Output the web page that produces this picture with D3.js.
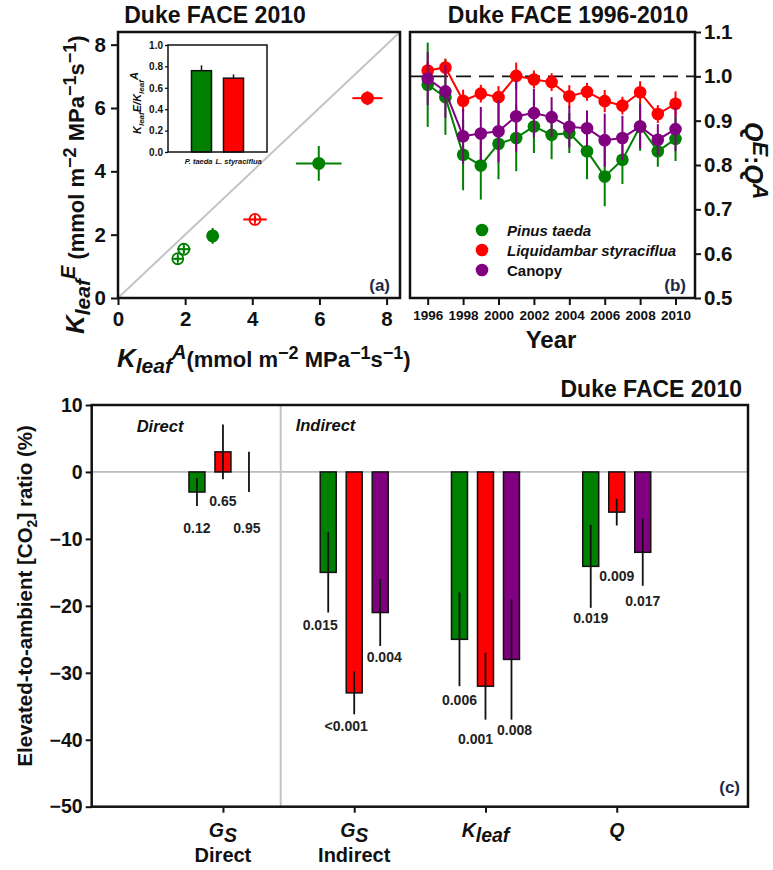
<!DOCTYPE html>
<html><head><meta charset="utf-8">
<script src="https://cdn.jsdelivr.net/npm/d3@7"></script>
<style>
body{margin:0;background:#fff}
svg{display:block}
text{font-family:"Liberation Sans",Arial,sans-serif;font-weight:bold;fill:#111}
</style>
</head><body>
<svg id="chart" width="773" height="870"></svg>
<script>
// ---------------- DATA ----------------
// Panel (a): Kleaf^A vs Kleaf^E
const aSpecies = ["Pinus taeda","Pinus taeda","Pinus taeda","Pinus taeda","Liquidambar styraciflua","Liquidambar styraciflua"];
const aForm = ["open","open","filled","filled","open","filled"];
const aKleafA = [1.78, 1.96, 2.82, 5.98, 4.08, 7.43];
const aKleafAErr = [0.12, 0.2, 0.1, 0.68, 0.35, 0.45];
const aKleafE = [1.24, 1.54, 1.96, 4.25, 2.48, 6.31];
const aKleafEErr = [0.1, 0.12, 0.25, 0.55, 0.1, 0.22];
const aTicks = [0, 2, 4, 6, 8];

// Inset: Kleaf E / Kleaf A
const insetSpecies = ["P. taeda", "L. styraciflua"];
const insetRatio = [0.76, 0.69];
const insetErr = [0.05, 0.035];
const insetTicks = [0, 0.2, 0.4, 0.6, 0.8, 1.0];

// Panel (b): Q^E:Q^A 1996-2010
const bYears = [1996,1997,1998,1999,2000,2001,2002,2003,2004,2005,2006,2007,2008,2009,2010];
const bSeriesNames = ["Pinus taeda", "Liquidambar styraciflua", "Canopy"];
const bPinus = [0.981,0.953,0.823,0.799,0.848,0.861,0.887,0.868,0.872,0.831,0.774,0.812,0.887,0.831,0.859];
const bPinusErr = [0.095,0.085,0.08,0.077,0.08,0.075,0.06,0.055,0.045,0.063,0.067,0.055,0.055,0.035,0.05];
const bLiquid = [1.013,1.020,0.945,0.961,0.953,1.001,0.993,0.987,0.955,0.965,0.944,0.934,0.964,0.915,0.938];
const bLiquidErr = [0.02,0.02,0.025,0.02,0.025,0.03,0.02,0.02,0.025,0.02,0.025,0.02,0.025,0.02,0.028];
const bCanopy = [0.995,0.966,0.865,0.871,0.876,0.910,0.917,0.908,0.886,0.883,0.856,0.861,0.887,0.857,0.881];
const bCanopyErr = [0.06,0.06,0.062,0.06,0.07,0.08,0.055,0.045,0.047,0.04,0.06,0.05,0.05,0.035,0.05];
const bXTicks = [1996,1998,2000,2002,2004,2006,2008,2010];
const bYTicks = [0.5,0.6,0.7,0.8,0.9,1.0,1.1];

// Panel (c): elevated-to-ambient ratios
const cCategories = ["Gs Direct", "Gs Indirect", "Kleaf", "Q"];
const cTickMain = ["G", "G", "K", "Q"];
const cTickSub = ["S", "S", "leaf", ""];
const cTickLine2 = ["Direct", "Indirect", "", ""];
const cGroups = ["Pinus taeda", "Liquidambar styraciflua", "Canopy"];
const cPinus = [-3, -15, -25, -14.1];
const cPinusErr = [2.1, 6, 7, 6.2];
const cLiquid = [3, -33, -32, -6];
const cLiquidErr = [4.1, 3.2, 5, 2];
const cCanopy = [0, -21, -28, -12];
const cCanopyErr = [3, 5, 9, 5];
const cPinusP = ["0.12", "0.015", "0.006", "0.019"];
const cLiquidP = ["0.65", "<0.001", "0.001", "0.009"];
const cCanopyP = ["0.95", "0.004", "0.008", "0.017"];
const cPinusPAt = [-8.3, -22.9, -34.1, -21.8];
const cLiquidPAt = [-4.3, -37.9, -39.9, -15.5];
const cCanopyPAt = [-8.3, -27.6, -38.6, -19.3];
const cYTicks = [-50, -40, -30, -20, -10, 0, 10];

// ---------------- STYLE ----------------
const GREEN = "#008000", RED = "#ff0000", PURPLE = "#800080";
const speciesColor = {"Pinus taeda": GREEN, "Liquidambar styraciflua": RED, "Canopy": PURPLE};
const PANEL_LABEL = "#1c2848";

const svg = d3.select("#chart");

function rich(sel, parts) {
  let cur = 0;
  parts.forEach(p => {
    const off = p.off || 0;
    sel.append("tspan")
      .attr("dy", off - cur)
      .attr("font-size", p.size)
      .attr("font-style", p.italic ? "italic" : "normal")
      .text(p.t);
    cur = off;
  });
}
function styleAxis(g, fs) {
  g.select(".domain").remove();
  g.selectAll(".tick line").attr("stroke", "#111").attr("stroke-width", 2);
  g.selectAll(".tick text").attr("font-size", fs).attr("font-family", '"Liberation Sans",Arial,sans-serif').attr("font-weight", "bold").attr("fill", "#111");
}

// ================= PANEL (a) =================
const ax = d3.scaleLinear().domain([0, 8.4]).range([118, 400]);
const ay = d3.scaleLinear().domain([0, 8.4]).range([298, 32]);
const ga = svg.append("g");

ga.append("line")
  .attr("x1", ax(0)).attr("y1", ay(0)).attr("x2", ax(8.4)).attr("y2", ay(8.4))
  .attr("stroke", "#c4c4c4").attr("stroke-width", 2);

ga.append("g").attr("transform", `translate(0,${ay(0)})`)
  .call(d3.axisBottom(ax).tickValues(aTicks).tickSize(7).tickPadding(6))
  .call(g => styleAxis(g, 20.5));
ga.append("g").attr("transform", `translate(${ax(0)},0)`)
  .call(d3.axisLeft(ay).tickValues(aTicks).tickSize(7).tickPadding(5))
  .call(g => styleAxis(g, 20.5));

aKleafA.forEach((xv, i) => {
  const c = speciesColor[aSpecies[i]];
  const cx = ax(xv), cy = ay(aKleafE[i]);
  ga.append("line").attr("x1", ax(xv - aKleafAErr[i])).attr("x2", ax(xv + aKleafAErr[i]))
    .attr("y1", cy).attr("y2", cy).attr("stroke", c).attr("stroke-width", 2);
  ga.append("line").attr("x1", cx).attr("x2", cx)
    .attr("y1", ay(aKleafE[i] - aKleafEErr[i])).attr("y2", ay(aKleafE[i] + aKleafEErr[i]))
    .attr("stroke", c).attr("stroke-width", 2);
  if (aForm[i] === "open") {
    const r = 5.5;
    ga.append("circle").attr("cx", cx).attr("cy", cy).attr("r", r)
      .attr("fill", "none").attr("stroke", c).attr("stroke-width", 1.8);
    ga.append("line").attr("x1", cx - r).attr("x2", cx + r).attr("y1", cy).attr("y2", cy).attr("stroke", c).attr("stroke-width", 1.5);
    ga.append("line").attr("x1", cx).attr("x2", cx).attr("y1", cy - r).attr("y2", cy + r).attr("stroke", c).attr("stroke-width", 1.5);
  } else {
    ga.append("circle").attr("cx", cx).attr("cy", cy).attr("r", 6.5).attr("fill", c);
  }
});

ga.append("rect").attr("x", ax(0)).attr("y", ay(8.4))
  .attr("width", ax(8.4) - ax(0)).attr("height", ay(0) - ay(8.4))
  .attr("fill", "none").attr("stroke", "#111").attr("stroke-width", 2.5);

ga.append("text").attr("x", 215).attr("y", 23).attr("text-anchor", "middle")
  .attr("font-size", 23).text("Duke FACE 2010");
ga.append("text").attr("x", 390).attr("y", 291).attr("text-anchor", "end")
  .attr("font-size", 17).style("fill", PANEL_LABEL).text("(a)");

// x label
const axl = ga.append("text").attr("x", 117).attr("y", 367);
rich(axl, [
  {t: "K", size: 26, italic: true},
  {t: "leaf", size: 21, italic: true, off: 6},
  {t: "A", size: 20, italic: true, off: -8},
  {t: "(mmol m", size: 22},
  {t: "−2", size: 18, off: -8},
  {t: " MPa", size: 22},
  {t: "−1", size: 18, off: -8},
  {t: "s", size: 22},
  {t: "−1", size: 18, off: -8},
  {t: ")", size: 22}
]);
// y label
const ayl = ga.append("text").attr("transform", "translate(84,334) rotate(-90)");
rich(ayl, [
  {t: "K", size: 26, italic: true},
  {t: "leaf", size: 21, italic: true, off: 6},
  {t: "E", size: 20, italic: true, off: -9},
  {t: " (mmol m", size: 22},
  {t: "−2", size: 18, off: -8},
  {t: " MPa", size: 22},
  {t: "−1", size: 18, off: -8},
  {t: "s", size: 22},
  {t: "−1", size: 18, off: -8},
  {t: ")", size: 22}
]);

// ---- inset ----
const ix = d3.scaleBand().domain(insetSpecies).range([168, 267]).paddingInner(0.375).paddingOuter(0.734);
const iy = d3.scaleLinear().domain([0, 1]).range([152, 45]);
const gi = svg.append("g");
gi.append("g").attr("transform", `translate(168,0)`)
  .call(d3.axisLeft(iy).tickValues(insetTicks).tickFormat(d3.format(".1f")).tickSize(3).tickPadding(2))
  .call(g => { styleAxis(g, 10); g.selectAll(".tick line").attr("stroke-width", 1.3); });
insetSpecies.forEach((s, i) => {
  const c = i === 0 ? GREEN : RED;
  const xm = ix(s) + ix.bandwidth() / 2;
  gi.append("line").attr("x1", xm).attr("x2", xm).attr("y1", iy(insetRatio[i])).attr("y2", iy(insetRatio[i] + insetErr[i]))
    .attr("stroke", "#111").attr("stroke-width", 1.5);
  gi.append("rect").attr("x", ix(s)).attr("y", iy(insetRatio[i]))
    .attr("width", ix.bandwidth()).attr("height", iy(0) - iy(insetRatio[i]))
    .attr("fill", c).attr("stroke", "#111").attr("stroke-width", 1.5);
});
gi.append("rect").attr("x", 168).attr("y", 45).attr("width", 99).attr("height", 107)
  .attr("fill", "none").attr("stroke", "#111").attr("stroke-width", 1.5);
gi.append("text").attr("x", ix(insetSpecies[0]) + ix.bandwidth() + 1).attr("y", 164)
  .attr("text-anchor", "end").attr("font-size", 7.5).attr("font-style", "italic").text(insetSpecies[0]);
gi.append("text").attr("x", ix(insetSpecies[1]) - 8).attr("y", 164)
  .attr("text-anchor", "start").attr("font-size", 7.5).attr("font-style", "italic").text(insetSpecies[1]);
const iyl = gi.append("text").attr("transform", "translate(141,134) rotate(-90)");
rich(iyl, [
  {t: "K", size: 11, italic: true},
  {t: "leaf", size: 8, italic: true, off: 3},
  {t: "E/K", size: 11, italic: true, off: 0},
  {t: "leaf", size: 8, italic: true, off: 3},
  {t: "A", size: 11, italic: true, off: -3}
]);

// ================= PANEL (b) =================
const bx = d3.scaleLinear().domain([1995, 2011.1]).range([410, 695]);
const by = d3.scaleLinear().domain([0.5, 1.1]).range([298, 32]);
const gb = svg.append("g");

gb.append("g").attr("transform", `translate(0,${by(0.5)})`)
  .call(d3.axisBottom(bx).tickValues(bXTicks).tickFormat(d3.format("d")).tickSize(7).tickPadding(5))
  .call(g => styleAxis(g, 13.5));
gb.append("g").attr("transform", `translate(${bx(2011.1)},0)`)
  .call(d3.axisRight(by).tickValues(bYTicks).tickFormat(d3.format(".1f")).tickSize(6).tickPadding(3))
  .call(g => styleAxis(g, 20.5));

gb.append("line").attr("x1", bx(1995)).attr("x2", bx(2011.1)).attr("y1", by(1.0)).attr("y2", by(1.0))
  .attr("stroke", "#111").attr("stroke-width", 1.6).attr("stroke-dasharray", "15,8");

const bSeries = [
  {name: bSeriesNames[0], v: bPinus, e: bPinusErr},
  {name: bSeriesNames[1], v: bLiquid, e: bLiquidErr},
  {name: bSeriesNames[2], v: bCanopy, e: bCanopyErr}
];
const bLine = d3.line().x((d, i) => bx(bYears[i])).y(d => by(d));
bSeries.forEach(s => {
  const c = speciesColor[s.name];
  const g = gb.append("g");
  s.v.forEach((v, i) => {
    g.append("line").attr("x1", bx(bYears[i])).attr("x2", bx(bYears[i]))
      .attr("y1", by(v - s.e[i])).attr("y2", by(v + s.e[i]))
      .attr("stroke", c).attr("stroke-width", 2);
  });
  g.append("path").datum(s.v).attr("d", bLine).attr("fill", "none").attr("stroke", c).attr("stroke-width", 2);
  g.selectAll("circle").data(s.v).join("circle")
    .attr("cx", (d, i) => bx(bYears[i])).attr("cy", d => by(d)).attr("r", 6.3).attr("fill", c);
});

gb.append("rect").attr("x", bx(1995)).attr("y", by(1.1))
  .attr("width", bx(2011.1) - bx(1995)).attr("height", by(0.5) - by(1.1))
  .attr("fill", "none").attr("stroke", "#111").attr("stroke-width", 2.5);

// legend
bSeriesNames.forEach((n, i) => {
  const yy = 230 + i * 20;
  gb.append("circle").attr("cx", 482).attr("cy", yy).attr("r", 6.3).attr("fill", speciesColor[n]);
  gb.append("text").attr("x", 507).attr("y", yy + 5.5).attr("font-size", 15)
    .attr("font-style", n === "Canopy" ? "normal" : "italic").text(n);
});

gb.append("text").attr("x", 568).attr("y", 23).attr("text-anchor", "middle")
  .attr("font-size", 23).text("Duke FACE 1996-2010");
gb.append("text").attr("x", 686).attr("y", 291).attr("text-anchor", "end")
  .attr("font-size", 17).style("fill", PANEL_LABEL).text("(b)");
gb.append("text").attr("x", 551).attr("y", 348).attr("text-anchor", "middle")
  .attr("font-size", 24).text("Year");
const byl = gb.append("text").attr("transform", "translate(745,122) rotate(90)");
rich(byl, [
  {t: "Q", size: 25, italic: true},
  {t: "E", size: 22, italic: true, off: -8},
  {t: ":", size: 24, off: 0},
  {t: "Q", size: 25, italic: true},
  {t: "A", size: 22, italic: true, off: -8}
]);

// ================= PANEL (c) =================
const cx = d3.scalePoint().domain(cCategories).range([91.7, 748]).padding(1);
const cy = d3.scaleLinear().domain([-50, 10]).range([806.7, 405]);
const inner = d3.scaleBand().domain(cGroups).range([-34, 34]).paddingInner(0.385);
const gc = svg.append("g");

gc.append("g").attr("transform", `translate(${cx.range()[0]},0)`)
  .call(d3.axisLeft(cy).tickValues(cYTicks).tickFormat(d => d < 0 ? "−" + Math.abs(d) : d).tickSize(6).tickPadding(3))
  .call(g => styleAxis(g, 19.5));
gc.append("g").attr("transform", `translate(0,${cy(-50)})`)
  .call(d3.axisBottom(cx).tickFormat("").tickSize(6))
  .call(g => styleAxis(g, 19));

// zero line and separator
gc.append("line").attr("x1", cx.range()[0]).attr("x2", cx.range()[1]).attr("y1", cy(0)).attr("y2", cy(0))
  .attr("stroke", "#8a8a8a").attr("stroke-width", 1);
const sepX = cx(cCategories[0]) + 0.44 * cx.step();
gc.append("line").attr("x1", sepX).attr("x2", sepX).attr("y1", cy(10)).attr("y2", cy(-50))
  .attr("stroke", "#c4c4c4").attr("stroke-width", 2);

// small horizontal nudges (px) of p-value labels so they do not collide
const pNudge = {
  "Pinus taeda": [0, -8, 0, 0],
  "Liquidambar styraciflua": [0, -8, -10, 0],
  "Canopy": [-2, 4, 3, 0]
};
const cSeries = [
  {name: cGroups[0], v: cPinus, e: cPinusErr, p: cPinusP, pAt: cPinusPAt},
  {name: cGroups[1], v: cLiquid, e: cLiquidErr, p: cLiquidP, pAt: cLiquidPAt},
  {name: cGroups[2], v: cCanopy, e: cCanopyErr, p: cCanopyP, pAt: cCanopyPAt}
];
cSeries.forEach(s => {
  const c = speciesColor[s.name];
  s.v.forEach((v, i) => {
    const x0 = cx(cCategories[i]) + inner(s.name);
    const xm = x0 + inner.bandwidth() / 2;
    if (Math.abs(v) > 0.01) {
      gc.append("rect").attr("x", x0).attr("y", cy(Math.max(v, 0)))
        .attr("width", inner.bandwidth()).attr("height", Math.abs(cy(v) - cy(0)))
        .attr("fill", c).attr("stroke", "#111").attr("stroke-width", 1.5);
    }
    gc.append("line").attr("x1", xm).attr("x2", xm).attr("y1", cy(v - s.e[i])).attr("y2", cy(v + s.e[i]))
      .attr("stroke", "#111").attr("stroke-width", 1.8);
    gc.append("text").attr("x", xm + pNudge[s.name][i]).attr("y", cy(s.pAt[i]) + 5).attr("text-anchor", "middle")
      .attr("font-size", 14).style("fill", "#222").text(s.p[i]);
  });
});

gc.append("rect").attr("x", cx.range()[0]).attr("y", cy(10))
  .attr("width", cx.range()[1] - cx.range()[0]).attr("height", cy(-50) - cy(10))
  .attr("fill", "none").attr("stroke", "#111").attr("stroke-width", 2.5);

// category labels
cCategories.forEach((cat, i) => {
  const t = gc.append("text").attr("x", cx(cat)).attr("y", 837).attr("text-anchor", "middle");
  const parts = [{t: cTickMain[i], size: 19.5, italic: true}];
  if (cTickSub[i]) parts.push({t: cTickSub[i], size: 19.5, italic: true, off: 5});
  rich(t, parts);
  if (cTickLine2[i]) {
    gc.append("text").attr("x", cx(cat)).attr("y", 862).attr("text-anchor", "middle")
      .attr("font-size", 20).text(cTickLine2[i]);
  }
});

gc.append("text").attr("x", cx.range()[0] + 45).attr("y", 432).attr("font-size", 16.5)
  .attr("font-style", "italic").text("Direct");
gc.append("text").attr("x", sepX + 15).attr("y", 431).attr("font-size", 16.5)
  .attr("font-style", "italic").text("Indirect");
gc.append("text").attr("x", 742).attr("y", 397).attr("text-anchor", "end")
  .attr("font-size", 23).text("Duke FACE 2010");
gc.append("text").attr("x", 740).attr("y", 793).attr("text-anchor", "end")
  .attr("font-size", 17).style("fill", PANEL_LABEL).text("(c)");
const cyl = gc.append("text").attr("transform", `translate(32,${(cy(10) + cy(-50)) / 2 - 10}) rotate(-90)`).attr("text-anchor", "middle");
rich(cyl, [
  {t: "Elevated-to-ambient [CO", size: 20.5},
  {t: "2", size: 14, off: 5},
  {t: "] ratio (%)", size: 20.5, off: 0}
]);
</script>
</body></html>
